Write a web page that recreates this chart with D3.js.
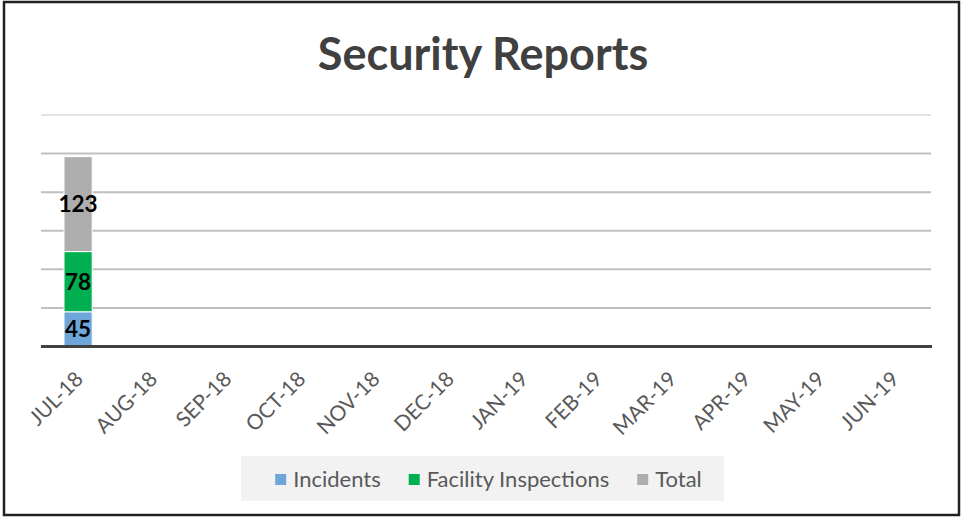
<!DOCTYPE html>
<html>
<head>
<meta charset="utf-8">
<script src="https://cdn.jsdelivr.net/npm/d3@7"></script>
<style>
  body { margin: 0; background: #fff; }
  svg text { font-family: Lato, "Open Sans", sans-serif; }
</style>
</head>
<body>
<div id="chart"></div>
<script>
/* global d3 */

// Data (only July has values)
var months = ["JUL-18", "AUG-18", "SEP-18", "OCT-18", "NOV-18", "DEC-18",
  "JAN-19", "FEB-19", "MAR-19", "APR-19", "MAY-19", "JUN-19"];
var incidents = [45, null, null, null, null, null, null, null, null, null, null, null];
var inspections = [78, null, null, null, null, null, null, null, null, null, null, null];
var totals = [123, null, null, null, null, null, null, null, null, null, null, null];
var seriesNames = ["Incidents", "Facility Inspections", "Total"];
var yTicks = [0, 50, 100, 150, 200, 250, 300];

var width = 961,
  height = 518,
  colors = ["#6fa6d9", "#00b050", "#adadad"];

var svg = d3.select("#chart").append("svg")
  .attr("width", width)
  .attr("height", height);

// outer frame
svg.append("rect")
  .attr("x", 4).attr("y", 2)
  .attr("width", 955).attr("height", 513)
  .attr("fill", "#fff")
  .attr("stroke", "#222")
  .attr("stroke-width", 2.5);

// title
svg.append("text")
  .attr("x", 483).attr("y", 70)
  .attr("text-anchor", "middle")
  .attr("font-size", 45)
  .attr("font-weight", "bold")
  .attr("fill", "#404040")
  .text("Security Reports");

var x = d3.scaleBand()
  .domain(months)
  .range([41, 931])
  .paddingInner(0.62)
  .paddingOuter(0.31);

var y = d3.scaleLinear()
  .domain([0, 300])
  .range([346.5, 115]);

// gridlines
svg.append("g")
  .selectAll("line")
  .data(yTicks.slice(1))
  .enter().append("line")
    .attr("x1", 41).attr("x2", 931)
    .attr("y1", function (d) { return y(d); })
    .attr("y2", function (d) { return y(d); })
    .attr("stroke", function (d) { return d === 300 ? "#e3e3e3" : "#bfbfbf"; })
    .attr("stroke-width", 2);

// stacked bars
var rows = months.map(function (m, i) {
  return { month: m, a: incidents[i], b: inspections[i], c: totals[i] };
});
var stack = d3.stack().keys(["a", "b", "c"])
  .value(function (d, k) { return d[k] || 0; });
var layers = stack(rows);

var layerG = svg.append("g").selectAll("g")
  .data(layers)
  .enter().append("g")
    .attr("fill", function (d, i) { return colors[i]; });

layerG.selectAll("rect")
  .data(function (d) { return d.filter(function (p) { return p.data[d.key] !== null; }); })
  .enter().append("rect")
    .attr("x", function (d) { return x(d.data.month); })
    .attr("width", x.bandwidth())
    .attr("y", function (d) { return y(d[1]); })
    .attr("height", function (d) { return y(d[0]) - y(d[1]); })
    .attr("stroke", "#fff")
    .attr("stroke-width", 1);

// data labels
layerG.selectAll("text")
  .data(function (d) {
    return d.filter(function (p) { return p.data[d.key] !== null; })
      .map(function (p) { p.key = d.key; return p; });
  })
  .enter().append("text")
    .attr("x", function (d) { return x(d.data.month) + x.bandwidth() / 2; })
    .attr("y", function (d) { return (y(d[0]) + y(d[1])) / 2; })
    .attr("dy", "0.36em")
    .attr("text-anchor", "middle")
    .attr("font-size", 22.5)
    .attr("font-weight", "bold")
    .attr("fill", "#000")
    .text(function (d) { return d.data[d.key]; });

// x axis line
svg.append("line")
  .attr("x1", 41).attr("x2", 932)
  .attr("y1", y(0)).attr("y2", y(0))
  .attr("stroke", "#404040")
  .attr("stroke-width", 3);

// month labels
svg.append("g")
  .selectAll("text")
  .data(months)
  .enter().append("text")
    .attr("transform", function (d) {
      return "translate(" + (x(d) + x.bandwidth() / 2 + 1) + ",375) rotate(-45)";
    })
    .attr("dy", "0.36em")
    .attr("text-anchor", "end")
    .attr("font-size", 21)
    .attr("fill", "#595959")
    .text(function (d) { return d; });

// legend
var legend = svg.append("g");
legend.append("rect")
  .attr("x", 241).attr("y", 456)
  .attr("width", 483).attr("height", 45)
  .attr("fill", "#f2f2f2");

var items = legend.append("g");
var cursor = 0;
seriesNames.forEach(function (name, i) {
  var g = items.append("g").attr("transform", "translate(" + cursor + ",0)");
  g.append("rect")
    .attr("x", 0).attr("y", 474)
    .attr("width", 11).attr("height", 11)
    .attr("fill", colors[i]);
  var t = g.append("text")
    .attr("x", 18).attr("y", 487)
    .attr("font-size", 22)
    .attr("fill", "#595959")
    .text(name);
  cursor += 18 + t.node().getComputedTextLength() + 28;
});
var contentW = cursor - 28;
items.attr("transform", "translate(" + (488.5 - contentW / 2) + ",0)");
</script>
</body>
</html>
